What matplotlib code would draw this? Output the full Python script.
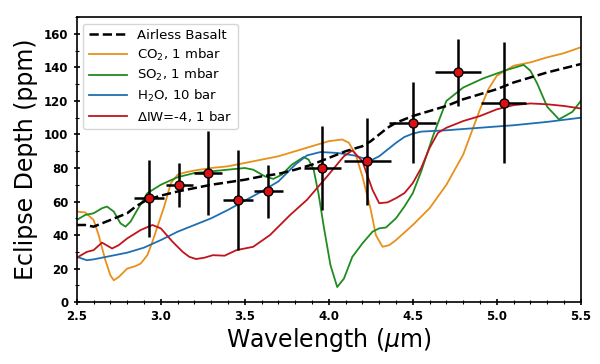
import matplotlib
matplotlib.use("Agg")
import matplotlib.pyplot as plt
from matplotlib.ticker import MultipleLocator

# observed eclipse depths
obs_wl = [2.93, 3.11, 3.28, 3.46, 3.64, 3.96, 4.23, 4.50, 4.77, 5.04]
obs_depth = [62, 70, 77, 61, 66, 80, 84, 107, 137, 119]
obs_wl_err = [0.09, 0.08, 0.085, 0.09, 0.085, 0.11, 0.14, 0.14, 0.135, 0.135]
obs_depth_err = [23, 13, 25, 30, 16, 25, 26, 24, 20, 36]

# airless basalt model
basalt_wl = [2.5, 2.55, 2.6, 2.65, 2.7, 2.75, 2.8, 2.85, 2.9, 2.95, 3.0, 3.1, 3.2, 3.3,
             3.4, 3.5, 3.6, 3.7, 3.8, 3.9, 4.0, 4.1, 4.2, 4.25, 4.3, 4.35, 4.4, 4.5,
             4.6, 4.7, 4.8, 4.9, 5.0, 5.1, 5.2, 5.3, 5.4, 5.5]
basalt = [46, 46, 45, 47, 49, 51, 53, 57, 60, 62, 63.5, 66, 68, 70,
          71.5, 73, 75, 76.5, 79, 82, 86, 90, 93, 96, 100, 104, 107, 111,
          114, 117, 121, 124, 127, 131, 134, 137, 139.5, 142]

# CO2, 1 mbar
co2_wl = [2.5, 2.55, 2.6, 2.63, 2.67, 2.7, 2.72, 2.75, 2.8, 2.85, 2.88, 2.92, 2.95,
          2.98, 3.02, 3.06, 3.1, 3.15, 3.2, 3.3, 3.4, 3.5, 3.6, 3.7, 3.8, 3.9, 4.0,
          4.08, 4.12, 4.16, 4.2, 4.25, 4.28, 4.32, 4.36, 4.4, 4.5, 4.6, 4.7, 4.8,
          4.9, 4.95, 5.0, 5.1, 5.2, 5.3, 5.4, 5.5]
co2 = [54, 53.5, 49, 40, 25, 16, 13, 15, 20, 21.5, 23, 28, 36,
       45, 57, 71, 76, 77.5, 78.5, 80, 81, 83, 85, 87, 90, 93, 96,
       97, 95, 88, 75, 55, 40, 33, 34, 37, 46, 56, 70, 88,
       115, 127, 135, 141, 143, 146, 148.5, 152]

# SO2, 1 mbar
so2_wl = [2.5, 2.55, 2.6, 2.65, 2.68, 2.72, 2.76, 2.79, 2.82, 2.86, 2.92, 3.0, 3.1,
          3.2, 3.3, 3.4, 3.5, 3.55, 3.62, 3.67, 3.72, 3.78, 3.85, 3.88, 3.91, 3.94,
          3.97, 4.01, 4.05, 4.09, 4.14, 4.2, 4.26, 4.3, 4.34, 4.4, 4.45, 4.5, 4.55,
          4.62, 4.7, 4.8, 4.92, 5.06, 5.16, 5.2, 5.24, 5.3, 5.37, 5.45, 5.5]
so2 = [49, 52, 53, 56, 57, 54, 47, 45, 48, 55, 65, 70, 74.5,
       77, 78, 79, 80, 79, 75, 73.5, 76, 82, 86.5, 85, 79, 64,
       45, 22, 9, 14, 27, 35, 42, 44, 44.5, 50, 57, 65, 78,
       99, 120, 128, 133.5, 138.5, 141.5, 138, 130.5, 116.5, 109, 113.5, 120]

# H2O, 10 bar
h2o_wl = [2.5, 2.56, 2.6, 2.65, 2.7, 2.8, 2.9, 3.0, 3.1, 3.2, 3.3, 3.4, 3.5, 3.6,
          3.7, 3.8, 3.87, 3.95, 4.05, 4.15, 4.2, 4.26, 4.3, 4.35, 4.4, 4.45, 4.5,
          4.55, 4.7, 4.9, 5.1, 5.3, 5.5]
h2o = [27, 25, 25.5, 26.5, 27.5, 29.5, 32.5, 37, 42, 46, 50, 55, 60.5, 66,
       72, 82, 87.5, 89.5, 89, 87.5, 86, 85, 87, 91, 95, 98.5, 100.5,
       101.7, 102.5, 104, 105.5, 107.5, 110]

# dIW=-4, 1 bar
iw_wl = [2.5, 2.56, 2.6, 2.65, 2.71, 2.75, 2.8, 2.88, 2.95, 3.0, 3.07, 3.13, 3.17, 3.21,
         3.26, 3.31, 3.38, 3.45, 3.55, 3.65, 3.77, 3.87, 3.99, 4.09, 4.14, 4.2,
         4.26, 4.3, 4.35, 4.4, 4.45, 4.5, 4.55, 4.6, 4.65, 4.7, 4.8, 4.9, 5.0,
         5.1, 5.2, 5.3, 5.4, 5.5]
iw = [26.5, 30, 31, 35.5, 32, 34, 38, 43, 46, 44, 36, 30, 27, 25.7,
      26.5, 28, 27.7, 31, 33, 40, 52, 61, 75, 87, 90.5, 84,
      67, 59, 59.5, 62, 65, 71, 80, 92, 101, 104, 108, 111, 115,
      117.5, 118.5, 118, 117, 115.5]

fig = plt.figure(figsize=(6.0, 3.64), dpi=100)
ax = fig.add_axes([0.128, 0.170, 0.84, 0.783])

lw = 1.3
ax.plot(basalt_wl, basalt, "k--", lw=1.8, label="Airless Basalt", zorder=3)
ax.plot(co2_wl, co2, color="#e8901a", lw=lw, label=r"CO$_2$, 1 mbar")
ax.plot(so2_wl, so2, color="#1f8c1f", lw=lw, label=r"SO$_2$, 1 mbar")
ax.plot(h2o_wl, h2o, color="#1f6fb0", lw=lw, label=r"H$_2$O, 10 bar")
ax.plot(iw_wl, iw, color="#c0141c", lw=lw, label=r"$\Delta$IW=-4, 1 bar")

ax.errorbar(obs_wl, obs_depth, xerr=obs_wl_err, yerr=obs_depth_err, fmt="o",
            color="k", ecolor="k", elinewidth=1.8, capsize=0,
            markerfacecolor="#dd1111", markeredgecolor="k", markersize=6.5,
            zorder=5)

ax.set_xlim(2.5, 5.5)
ax.set_ylim(0, 170)
ax.set_xticks([2.5, 3.0, 3.5, 4.0, 4.5, 5.0, 5.5])
ax.set_yticks([0, 20, 40, 60, 80, 100, 120, 140, 160])
ax.xaxis.set_minor_locator(MultipleLocator(0.1))
ax.yaxis.set_minor_locator(MultipleLocator(10))
ax.tick_params(which="major", direction="inout", length=5, width=1.2)
ax.tick_params(which="minor", direction="inout", length=3, width=0.8)
for lab in ax.get_xticklabels() + ax.get_yticklabels():
    lab.set_fontsize(8.5)
    lab.set_fontweight("bold")

ax.set_xlabel(r"Wavelength ($\mu$m)", fontsize=17, labelpad=2)
ax.set_ylabel("Eclipse Depth (ppm)", fontsize=17, labelpad=4)
for s in ax.spines.values():
    s.set_linewidth(1.2)

ax.legend(loc="upper left", fontsize=9.5, frameon=True, handlelength=2.9,
          borderaxespad=0.5, labelspacing=0.35)

fig.savefig("out.png", dpi=100)
